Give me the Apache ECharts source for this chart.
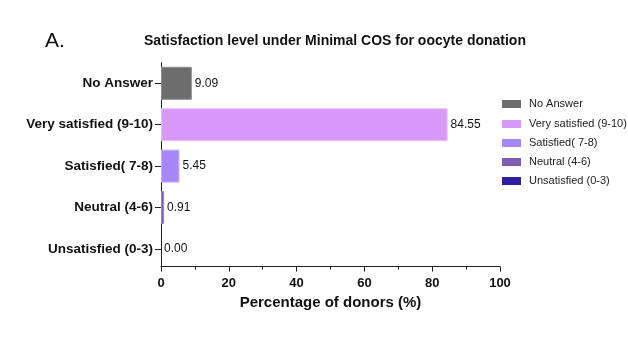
<!DOCTYPE html>
<html>
<head>
<meta charset="utf-8">
<script src="https://cdn.jsdelivr.net/npm/echarts@6/dist/echarts.min.js"></script>
<style>html,body{margin:0;padding:0;background:#fff}#c{width:628px;height:347px}</style>
</head>
<body>
<div id="c"></div>
<script>
const categories = ['No Answer', 'Very satisfied (9-10)', 'Satisfied( 7-8)', 'Neutral (4-6)', 'Unsatisfied (0-3)'];
const values = [9.09, 84.55, 5.45, 0.91, 0.00];
const colors = ['#6d6d6d', '#d898f8', '#a888f8', '#7d5fb5', '#2e22a0'];
const borderColors = ['#8a8a8a', '#e6c0fa', '#c6b2fa', '#9a84c8', '#2e22a0'];
const xTicks = [0, 20, 40, 60, 80, 100];

const FONT = '"Liberation Sans", Arial, Helvetica, sans-serif';
const chart = echarts.init(document.getElementById('c'));

const series = categories.map((name, i) => ({
  name: name,
  type: 'bar',
  stack: 'all',
  barWidth: 33,
  data: categories.map((c, j) => j === i ? values[i] : '-'),
  itemStyle: { color: colors[i], borderColor: borderColors[i], borderWidth: values[i] > 0 ? 1 : 0 },
  label: {
    show: true, position: 'right', distance: 3,
    formatter: p => Number(p.value).toFixed(2),
    color: '#111', fontFamily: FONT, fontSize: 12
  }
}));

const legendCommon = {
  orient: 'vertical', left: 502, padding: 0, itemWidth: 19, itemHeight: 8, icon: 'rect',
  itemStyle: { borderWidth: 0 },
  textStyle: { fontFamily: FONT, fontSize: 11, color: '#222', lineHeight: 12, padding: [0, 0, 0, 3] },
  itemGap: 7, selectedMode: false
};

chart.setOption({
  animation: false,
  backgroundColor: '#fff',
  title: [
    { text: 'A.', left: 40, top: 26, textStyle: { fontFamily: FONT, fontWeight: 'normal', fontSize: 21, color: '#111' } },
    { text: 'Satisfaction level under Minimal COS for oocyte donation', left: 330, textAlign: 'center', top: 29,
      textStyle: { fontFamily: FONT, fontWeight: 'bold', fontSize: 14, color: '#111' } }
  ],
  legend: [
    Object.assign({}, legendCommon, { data: [categories[0]], top: 98 }),
    Object.assign({}, legendCommon, { data: categories.slice(1), top: 118 })
  ],
  grid: { left: 161, right: 128, top: 62.6, bottom: 77.4, containLabel: false },
  xAxis: {
    type: 'value', min: xTicks[0], max: xTicks[xTicks.length - 1], interval: 20,
    offset: -3,
    name: 'Percentage of donors (%)', nameLocation: 'middle', nameGap: 29,
    nameTextStyle: { fontFamily: FONT, fontWeight: 'bold', fontSize: 15, color: '#111' },
    axisLine: { show: true, lineStyle: { color: '#222', width: 1 } },
    axisTick: { show: true, length: 5, lineStyle: { color: '#222' } },
    minorTick: { show: true, splitNumber: 2, length: 3, lineStyle: { color: '#222' } },
    splitLine: { show: false },
    axisLabel: { margin: 10, fontFamily: FONT, fontWeight: 'bold', fontSize: 13, color: '#111',
      formatter: v => xTicks.includes(v) ? String(v) : '' }
  },
  yAxis: {
    type: 'category', data: categories, inverse: true,
    axisLine: { show: true, lineStyle: { color: '#222', width: 1 } },
    axisTick: { show: true, length: 6, alignWithLabel: true, lineStyle: { color: '#222' } },
    axisLabel: { margin: 8, fontFamily: FONT, fontWeight: 'bold', fontSize: 13.5, color: '#111' }
  },
  series: series
});
</script>
</body>
</html>
